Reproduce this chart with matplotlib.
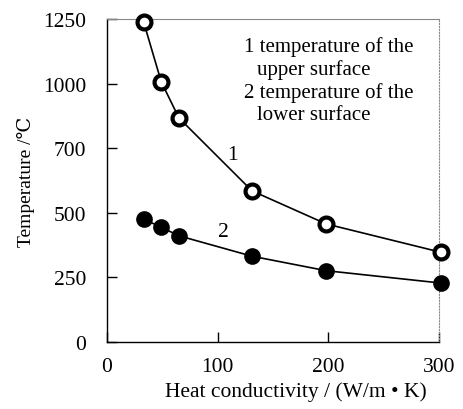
import matplotlib
matplotlib.use("Agg")
import matplotlib.pyplot as plt

conductivity = [33, 49, 65, 131, 198, 302]
upper_temp = [1240, 1007, 867, 585, 457, 347]
lower_temp = [476, 444, 411, 332, 276, 228]
x_ticks = [0, 100, 200, 300]
y_ticks = [0, 250, 500, 750, 1000, 1250]
y_tick_labels = ["0", "250", "500", "700", "1000", "1250"]

plt.rcParams['font.family'] = ['Liberation Serif', 'DejaVu Serif']
plt.rcParams['font.size'] = 15.5

fig = plt.figure(figsize=(4.63, 4.10), dpi=100)
ax = fig.add_axes([107/463, 1 - 343/410, (439-107)/463, (343-20)/410])

ax.plot(conductivity, upper_temp, color='black', lw=1.2, marker='o', ms=10,
        mfc='white', mec='black', mew=3, clip_on=False, zorder=3)
ax.plot(conductivity, lower_temp, color='black', lw=1.2, marker='o', ms=10.5,
        mfc='black', mec='black', mew=1.5, clip_on=False, zorder=3)

ax.set_xlim(0, 300)
ax.set_ylim(0, 1250)
ax.set_xticks(x_ticks)
ax.set_yticks(y_ticks)
ax.set_yticklabels(y_tick_labels)
ax.tick_params(direction='in', length=7, width=1, top=False, right=False)
ax.tick_params(axis='y', pad=15)
ax.tick_params(axis='x', pad=11)

for s in ['left', 'bottom']:
    ax.spines[s].set_color('black')
    ax.spines[s].set_linewidth(1)
ax.spines['top'].set_color('#888888')
ax.spines['right'].set_color('#888888')
ax.spines['right'].set_linestyle(':')

ax.set_xlabel("Heat conductivity / (W/m \u2022 K)", fontsize=15.5)
ax.xaxis.set_label_coords((296 - 107) / 332, (343 - 382) / 323)
ax.set_ylabel("Temperature /\u2103", fontsize=14)
ax.yaxis.set_label_coords((35 - 107) / 332, 0.5)

ax.text(113, 727, "1", ha='center', va='center')
ax.text(105, 428, "2", ha='center', va='center')

lx = (244 - 107) / (439 - 107)
lines = [("1 temperature of the", 0), ("upper surface", 0.038),
         ("2 temperature of the", 0), ("lower surface", 0.038)]
for i, (t, dx) in enumerate(lines):
    ax.text(lx + dx, 1 - (47 - 20 + 23 * i) / 323, t, transform=ax.transAxes,
            ha='left', va='center', fontsize=15)

fig.savefig("out.png", dpi=100)
